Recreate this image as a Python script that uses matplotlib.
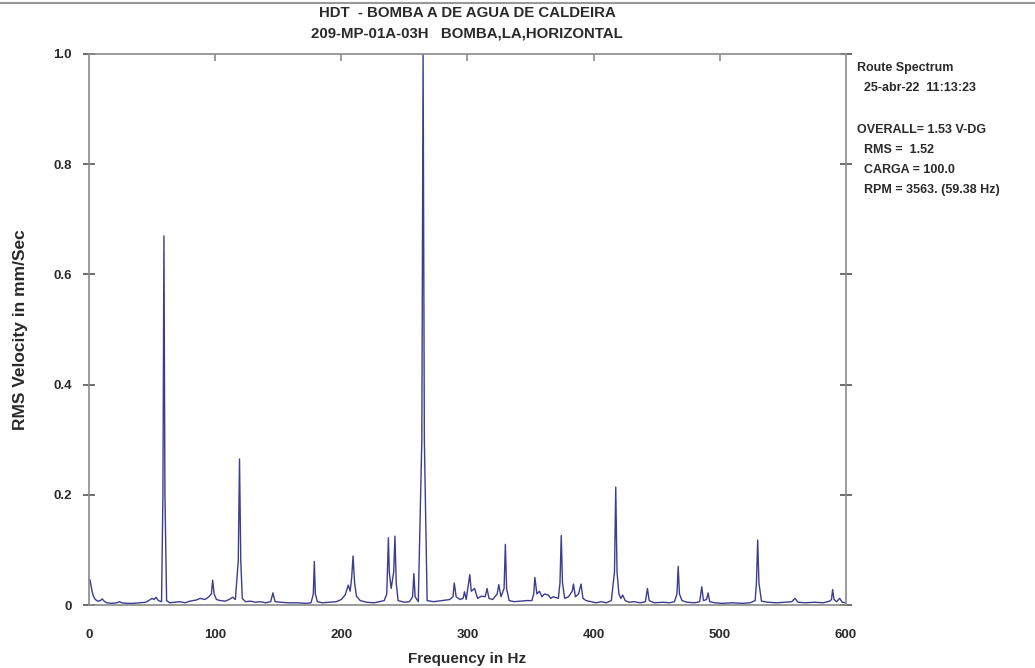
"""Route spectrum, pump 209-MP-01A-03H, horizontal."""

import matplotlib
matplotlib.use("Agg")
import matplotlib.pyplot as plt
from matplotlib.lines import Line2D

plt.rcParams["font.family"] = ["Liberation Sans", "DejaVu Sans"]
plt.rcParams["font.weight"] = "bold"
plt.rcParams["axes.labelweight"] = "bold"

TEXT = "#2a2a2a"
AXIS = "#8a8a8a"
TRACE = "#3c3c90"

# spectrum points (Hz, mm/s RMS)
freq_hz = (
    [0, 0.8, 1.6, 2.5, 3.5, 5, 7, 9, 10.5, 12, 14, 18, 22, 24, 26, 30]
    + [35, 40, 45, 48, 50, 51.5, 53, 55, 57.5, 58.6, 59.4, 60.2, 61.5, 64]
    + [68, 72, 76, 80, 85, 88, 92, 95, 97, 98, 99.2, 101, 104, 108, 111, 114,
       116, 118.3, 119.3, 120.3, 121.5, 124]
    + [128, 132, 136, 140, 144, 145.8, 147.5, 152, 158, 165, 172, 176, 177.8,
       178.6, 179.4, 181, 185, 190]
    + [196, 200, 203, 205.5, 207, 208.2, 209.3, 210.5, 212, 215, 220, 226, 230,
       234, 236, 237.3, 238, 239.5, 241.5, 242.5, 243.5, 245, 250]
    + [254, 256.5, 257.5, 258.5, 261, 263.8, 264.8, 265.8, 268, 273, 280, 286,
       288.5, 289.5, 291, 294, 296.5, 297.6, 299, 301.8, 303, 305.6, 308, 311,
       314, 315.5, 317, 320, 323.5, 324.8, 326.5, 329, 330, 331, 333, 337, 342,
       347]
    + [351, 352.5, 353.4, 355, 357, 359, 361, 364, 366, 368, 372, 373.3, 374.3,
       375.3, 377, 380, 383, 384, 385.5, 388, 390, 391.5, 394, 398, 402, 406,
       410, 414]
    + [416.5, 417.5, 418.5, 420, 421.5, 423, 425, 428, 432, 437, 441, 442.6,
       444, 448, 455, 460, 464, 466, 467, 468, 470]
    + [474, 480, 484, 485.7, 487, 489.5, 490.7, 492, 496, 502, 510, 518, 524,
       528, 529, 530, 531, 533, 538, 545, 552, 557, 559.5, 562, 568, 575, 582,
       587, 588.5, 589.4, 590.5, 592.5, 595, 597, 600]
)
velocity = (
    [0.048, 0.045, 0.035, 0.024, 0.016, 0.010, 0.007, 0.008, 0.011, 0.007,
     0.004, 0.003, 0.004, 0.006, 0.004, 0.003]
    + [0.003, 0.004, 0.005, 0.009, 0.012, 0.010, 0.014, 0.008, 0.006, 0.20,
       0.67, 0.20, 0.008, 0.004]
    + [0.005, 0.006, 0.004, 0.007, 0.009, 0.012, 0.010, 0.015, 0.02, 0.045,
       0.02, 0.010, 0.008, 0.007, 0.010, 0.014, 0.010, 0.08, 0.265, 0.08,
       0.012, 0.006]
    + [0.007, 0.005, 0.006, 0.004, 0.006, 0.022, 0.006, 0.005, 0.004, 0.004,
       0.003, 0.004, 0.02, 0.079, 0.02, 0.006, 0.004, 0.005]
    + [0.006, 0.010, 0.018, 0.036, 0.025, 0.05, 0.089, 0.04, 0.016, 0.008,
       0.005, 0.004, 0.006, 0.008, 0.02, 0.122, 0.06, 0.03, 0.06, 0.125, 0.04,
       0.008, 0.005]
    + [0.006, 0.015, 0.057, 0.015, 0.006, 0.3, 1.0, 0.3, 0.008, 0.006, 0.008,
       0.01, 0.015, 0.04, 0.015, 0.01, 0.012, 0.024, 0.01, 0.055, 0.025, 0.03,
       0.012, 0.016, 0.015, 0.03, 0.012, 0.01, 0.02, 0.037, 0.015, 0.03, 0.11,
       0.03, 0.008, 0.006, 0.007, 0.008]
    + [0.008, 0.02, 0.05, 0.02, 0.025, 0.015, 0.02, 0.018, 0.012, 0.015, 0.012,
       0.04, 0.126, 0.04, 0.012, 0.015, 0.025, 0.038, 0.015, 0.02, 0.038,
       0.012, 0.008, 0.006, 0.004, 0.006, 0.004, 0.008]
    + [0.06, 0.214, 0.06, 0.02, 0.012, 0.018, 0.008, 0.005, 0.006, 0.004,
       0.006, 0.03, 0.008, 0.004, 0.005, 0.004, 0.006, 0.02, 0.07, 0.02, 0.008]
    + [0.005, 0.004, 0.006, 0.033, 0.008, 0.01, 0.022, 0.006, 0.004, 0.003,
       0.004, 0.003, 0.004, 0.008, 0.04, 0.118, 0.04, 0.007, 0.005, 0.004,
       0.005, 0.006, 0.012, 0.005, 0.004, 0.005, 0.004, 0.007, 0.01, 0.028,
       0.01, 0.006, 0.012, 0.005, 0.004]
)

x_ticks = [0, 100, 200, 300, 400, 500, 600]
y_ticks = [0, 0.2, 0.4, 0.6, 0.8, 1.0]
y_tick_labels = ["0", "0.2", "0.4", "0.6", "0.8", "1.0"]

title_lines = ["HDT  - BOMBA A DE AGUA DE CALDEIRA",
               "209-MP-01A-03H   BOMBA,LA,HORIZONTAL"]
info_lines = ["Route Spectrum",
              "  25-abr-22  11:13:23",
              "",
              "OVERALL= 1.53 V-DG",
              "  RMS =  1.52",
              "  CARGA = 100.0",
              "  RPM = 3563. (59.38 Hz)"]

fig = plt.figure(figsize=(10.35, 6.68), dpi=100)
ax = fig.add_axes([89 / 1035, 1 - 605 / 668, 757 / 1035, 551 / 668])

ax.plot(freq_hz, velocity, color=TRACE, lw=1.0)
ax.set_xlim(0, 600)
ax.set_ylim(0, 1.0)

for side in ax.spines.values():
    side.set_color(AXIS)
    side.set_linewidth(1.2)

ax.set_xticks(x_ticks)
ax.set_xticklabels([str(t) for t in x_ticks])
ax.set_yticks(y_ticks)
ax.set_yticklabels(y_tick_labels)
ax.tick_params(axis="x", bottom=False, top=False, labelsize=9.5, pad=14,
               labelcolor=TEXT)
ax.tick_params(axis="y", left=True, right=True, direction="inout", length=9,
               width=1.2, color="#555555", labelsize=9.5, pad=8,
               labelcolor=TEXT)

# short inward ticks along the top edge
top = ax.secondary_xaxis("top")
top.set_xticks([100, 200, 300, 400, 500])
top.tick_params(direction="in", length=5, width=1.2, color=AXIS,
                labeltop=False)
top.spines["top"].set_visible(False)

ax.set_xlabel("Frequency in Hz", fontsize=11, color=TEXT, labelpad=8)
ax.set_ylabel("RMS Velocity in mm/Sec", fontsize=12.5, color=TEXT,
              labelpad=18)

fig.text(467 / 1035, 1 - 13 / 668, title_lines[0], ha="center", va="center",
         fontsize=10.8, color=TEXT)
fig.text(467 / 1035, 1 - 33 / 668, title_lines[1], ha="center", va="center",
         fontsize=10.8, color=TEXT)

y_px = 68
for line in info_lines:
    if line:
        fig.text(857 / 1035, 1 - y_px / 668, line, ha="left", va="center",
                 fontsize=9, color=TEXT)
    y_px += 20 if line else 22

# grey border line from the screenshot
fig.add_artist(Line2D([0, 1], [1 - 3 / 668, 1 - 3 / 668], color="#999999",
                      lw=1.5, transform=fig.transFigure))

fig.savefig("out.png", dpi=100)
